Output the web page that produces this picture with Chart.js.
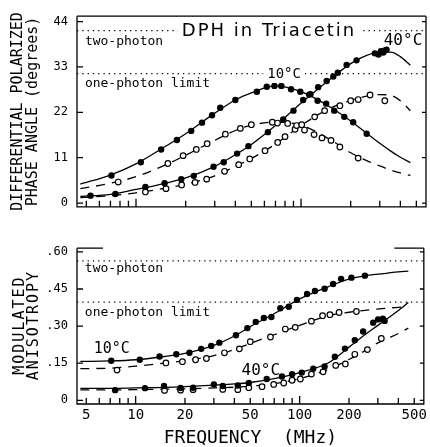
<!DOCTYPE html>
<html>
<head>
<meta charset="utf-8">
<script src="https://cdn.jsdelivr.net/npm/chart.js@4.4.1/dist/chart.umd.min.js"></script>
<style>
body { margin: 0; background: #fff; }
#wrap { position: relative; width: 430px; height: 447px; }
#top { position: absolute; left: 0; top: 0; }
#bot { position: absolute; left: 0; top: 232px; }
</style>
</head>
<body>
<div id="wrap">
  <canvas id="top" width="430" height="223"></canvas>
  <canvas id="bot" width="430" height="215"></canvas>
</div>
<script>
// x axis (MHz, log)
const xTickVals = [5, 10, 20, 50, 100, 200, 500];
const xTickLabels = ['5', '10', '20', '50', '100', '200', '500'];
const xMinor = [5, 6, 7, 8, 9, 10, 20, 30, 40, 50, 60, 70, 80, 90, 100, 200, 300, 400, 500];

// y ticks
const topYTicks = [0, 11, 22, 33, 44];
const topYLabels = ['0', '11', '22', '33', '44'];
const botYTicks = [0, 0.15, 0.30, 0.45, 0.60];
const botYLabels = ['0', '.15', '.30', '.45', '.60'];

// limit lines
const twoPhotonTop = 41.8, onePhotonTop = 31.4;
const twoPhotonBot = 0.564, onePhotonBot = 0.397;

// fitted curves, shared frequency grid
const fitFreq = [4.6, 7, 10, 15, 20, 30, 40, 50, 70, 100, 150, 200, 250, 300, 350, 400, 460];
const fitPhase10 = [4.6, 6.8, 9.5, 13.7, 16.8, 21.8, 25.0, 26.7, 28.4, 27.0, 23.3, 19.9, 16.9, 14.5, 12.6, 11.1, 9.8];
const fitPhase10o = [3.5, 4.8, 6.4, 9.2, 11.6, 15.2, 17.6, 18.9, 19.6, 18.9, 15.4, 12.2, 10.3, 9.0, 8.0, 7.3, 6.7];
const fitPhase40 = [1.6, 2.1, 3.3, 4.8, 6.1, 8.9, 11.7, 14.2, 18.8, 24.2, 30.0, 33.8, 35.8, 36.6, 36.6, 35.5, 33.4];
const fitPhase40o = [1.3, 1.8, 2.5, 3.6, 4.6, 6.6, 8.9, 10.8, 14.3, 18.8, 23.0, 24.9, 25.9, 26.3, 26.1, 24.8, 22.4];
const fitAniso10 = [0.157, 0.159, 0.164, 0.177, 0.19, 0.222, 0.26, 0.298, 0.35, 0.41, 0.46, 0.49, 0.503, 0.51, 0.515, 0.519, 0.522];
const fitAniso10o = [0.128, 0.13, 0.138, 0.15, 0.16, 0.181, 0.205, 0.23, 0.265, 0.303, 0.342, 0.356, 0.364, 0.369, 0.373, 0.376, 0.378];
const fitAniso40 = [0.048, 0.048, 0.05, 0.052, 0.055, 0.061, 0.066, 0.072, 0.088, 0.112, 0.152, 0.215, 0.265, 0.303, 0.335, 0.363, 0.395];
const fitAniso40o = [0.042, 0.042, 0.043, 0.045, 0.046, 0.05, 0.053, 0.057, 0.067, 0.088, 0.125, 0.165, 0.2, 0.232, 0.252, 0.27, 0.292];

// measured points
const ph10F = [7.1, 10.7, 14.2, 17.7, 21.6, 25.1, 28.9, 32.4, 40, 54, 62, 69, 76, 87, 99, 112, 126, 142, 159, 183, 207, 250];
const ph10V = [6.7, 9.9, 13.0, 15.3, 17.5, 19.5, 21.3, 23.1, 25.0, 27.0, 28.2, 28.4, 28.4, 27.6, 27.0, 26.3, 24.8, 24.1, 22.4, 20.9, 19.6, 16.8];
const ph10oF = [7.8, 15.6, 19.3, 23.2, 27, 34.8, 42.9, 50, 67, 72, 83, 94, 101, 105, 120, 134, 152, 172, 222];
const ph10oV = [5.1, 9.6, 11.5, 13.0, 14.4, 16.7, 18.1, 19.0, 19.6, 19.4, 19.3, 18.8, 19.0, 17.7, 16.6, 15.8, 15.2, 13.6, 10.9];
const ph40F = [5.3, 7.5, 11.4, 14.9, 18.8, 22.4, 29.5, 34, 41, 48, 63, 78, 90, 103, 114, 127, 143, 157, 167, 189, 217, 280, 295, 305, 315, 322, 330];
const ph40V = [1.8, 2.2, 3.9, 4.8, 5.8, 6.6, 8.8, 9.9, 12.0, 13.8, 17.2, 20.3, 22.4, 25.0, 26.4, 28.1, 29.6, 30.7, 31.6, 33.5, 34.6, 36.3, 36.0, 36.8, 36.5, 37.0, 37.2];
const ph40oF = [11.4, 15.2, 18.9, 22.8, 26.8, 34.4, 41.9, 48.9, 60.5, 72.2, 80, 92, 121, 139, 172, 200, 222, 262, 322];
const ph40oV = [2.7, 3.5, 4.4, 5.0, 5.8, 7.7, 9.3, 10.7, 12.7, 14.7, 16.1, 17.9, 20.9, 22.4, 23.6, 24.8, 25.1, 26.2, 24.8];

const an10F = [7.1, 10.6, 14.0, 17.7, 21.3, 25.1, 28.9, 32.4, 40.9, 48, 54, 60.5, 67.3, 76.3, 85.8, 96.3, 111, 124, 142, 160, 179, 207, 250];
const an10V = [0.160, 0.164, 0.177, 0.186, 0.192, 0.208, 0.220, 0.233, 0.263, 0.292, 0.317, 0.333, 0.337, 0.372, 0.378, 0.406, 0.43, 0.442, 0.451, 0.47, 0.491, 0.496, 0.504];
const an10oF = [7.7, 15.3, 19.3, 23.2, 27, 34.8, 42.9, 50, 66.4, 81.8, 94, 118, 138, 153, 174, 222];
const an10oV = [0.122, 0.151, 0.156, 0.164, 0.169, 0.192, 0.208, 0.237, 0.256, 0.288, 0.295, 0.32, 0.342, 0.346, 0.355, 0.359];
const an40F = [7.5, 11.4, 14.9, 18.8, 22.4, 30, 34, 42, 49, 63, 78, 90, 103, 121, 142, 164, 189, 217, 244, 281, 301, 322, 330];
const an40V = [0.041, 0.049, 0.058, 0.05, 0.051, 0.064, 0.058, 0.06, 0.07, 0.086, 0.096, 0.105, 0.112, 0.128, 0.137, 0.176, 0.209, 0.243, 0.278, 0.314, 0.327, 0.33, 0.321];
const an40oF = [15, 18.8, 22.4, 34, 42, 49, 59, 69.5, 80, 90, 101, 118, 139, 166, 190, 217, 259, 315];
const an40oV = [0.04, 0.041, 0.043, 0.044, 0.043, 0.051, 0.055, 0.064, 0.07, 0.081, 0.086, 0.106, 0.115, 0.141, 0.147, 0.186, 0.205, 0.25];

const xMin = 4.39, xMax = 572;
const mono = 'DejaVu Sans Mono';

function pts(f, v) { return f.map((x, i) => ({x: x, y: v[i]})); }
function dots(f, v, open) {
  return { data: pts(f, v), showLine: false, pointRadius: open ? 2.8 : 3.2,
    pointBackgroundColor: open ? '#fff' : '#000', pointBorderColor: '#000',
    pointBorderWidth: open ? 1.2 : 0, order: 1 };
}
function curve(f, v, dashed) {
  return { data: pts(f, v), showLine: true, pointRadius: 0, borderColor: '#000',
    borderWidth: 1.3, borderDash: dashed ? [9, 7] : [], cubicInterpolationMode: 'monotone', order: 2 };
}
function limit(val) {
  return { data: [{x: xMin, y: val}, {x: xMax, y: val}], showLine: true, pointRadius: 0,
    borderColor: '#000', borderWidth: 1.3, borderDash: [1.3, 4], order: 3 };
}

// frame, inward ticks and the text notes
const frame = {
  id: 'frame',
  afterDatasetsDraw(chart, args, opts) {
    const {ctx, chartArea: a} = chart;
    const x = chart.scales.x, y = chart.scales.y;
    ctx.save();
    ctx.strokeStyle = '#000';
    ctx.lineWidth = 1.3;
    ctx.beginPath();
    // left, bottom, right sides
    ctx.moveTo(a.left, a.top); ctx.lineTo(a.left, a.bottom); ctx.lineTo(a.right, a.bottom); ctx.lineTo(a.right, a.top);
    // top side, possibly only pieces of it
    (opts.topParts || [[0, 1]]).forEach(p => {
      ctx.moveTo(a.left + p[0] * (a.right - a.left), a.top);
      ctx.lineTo(a.left + p[1] * (a.right - a.left), a.top);
    });
    xMinor.forEach(v => {
      const px = x.getPixelForValue(v);
      const len = (v === 10 || v === 100) ? 8 : 6;
      ctx.moveTo(px, a.bottom);
      ctx.lineTo(px, a.bottom - len);
    });
    opts.yTicks.forEach(v => {
      const py = y.getPixelForValue(v);
      ctx.moveTo(a.left, py); ctx.lineTo(a.left + 6, py);
      ctx.moveTo(a.right, py); ctx.lineTo(a.right - 4, py);
    });
    ctx.stroke();
    ctx.fillStyle = '#000';
    ctx.textBaseline = 'middle';
    opts.notes.forEach(n => {
      ctx.font = n.font;
      ctx.textAlign = n.align;
      ctx.letterSpacing = (n.spacing || 0) + 'px';
      const px = x.getPixelForValue(n.f), py = y.getPixelForValue(n.v);
      if (n.clear) {
        const w = ctx.measureText(n.text).width + 8;
        const h = 16;
        ctx.fillStyle = '#fff';
        ctx.fillRect(n.align === 'center' ? px - w / 2 : px - 4, py - h / 2, w, h);
        ctx.fillStyle = '#000';
      }
      ctx.fillText(n.text, px, py);
    });
    // rotated axis title with letter spacing
    if (opts.vtitle) {
      const t = opts.vtitle;
      ctx.font = t.font;
      ctx.letterSpacing = t.spacing + 'px';
      ctx.textAlign = 'center';
      t.lines.forEach((line, i) => {
        ctx.save();
        ctx.translate(t.x[i], (a.top + a.bottom) / 2);
        ctx.rotate(-Math.PI / 2);
        ctx.fillText(line, t.spacing / 2, 0);
        ctx.restore();
      });
    }
    ctx.restore();
  }
};

function yAxis(min, max, ticks, labels, title) {
  return {
    min: min, max: max,
    afterFit: s => { s.width = 77; },
    afterBuildTicks: s => { s.ticks = ticks.map(v => ({value: v})); },
    grid: {display: false, drawTicks: false},
    border: {display: false},
    ticks: {padding: 9, color: '#000', font: {family: mono, size: 12}, callback: (v, i) => labels[i]},
    title: {display: !!title, text: title || '', color: '#000', font: {family: mono, size: 15, lineHeight: 1.0}, padding: {top: 11, bottom: 0}}
  };
}

new Chart(document.getElementById('top'), {
  type: 'scatter',
  data: {
    datasets: [
      dots(ph10F, ph10V, false), dots(ph10oF, ph10oV, true),
      dots(ph40F, ph40V, false), dots(ph40oF, ph40oV, true),
      curve(fitFreq, fitPhase10, false), curve(fitFreq, fitPhase10o, true),
      curve(fitFreq, fitPhase40, false), curve(fitFreq, fitPhase40o, true),
      limit(twoPhotonTop), limit(onePhotonTop)
    ]
  },
  options: {
    responsive: false, animation: false,
    layout: {padding: {top: 15, right: 4, left: 0, bottom: 0}, autoPadding: false},
    plugins: {
      legend: {display: false}, tooltip: {enabled: false},
      frame: {
        yTicks: topYTicks,
        notes: [
          {text: 'two-photon', f: 4.9, v: 39.1, align: 'left', font: '13px ' + mono},
          {text: 'one-photon limit', f: 4.9, v: 28.9, align: 'left', font: '13px ' + mono},
          {text: 'DPH in Triacetin', f: 64, v: 41.6, align: 'center', font: '18px "DejaVu Sans"', spacing: 2, clear: true},
          {text: '10°C', f: 79, v: 31.1, align: 'center', font: '14px ' + mono, clear: true},
          {text: '40°C', f: 415, v: 39.3, align: 'center', font: '16px ' + mono}
        ]
      }
    },
    scales: {
      x: {type: 'logarithmic', min: xMin, max: xMax, display: false},
      y: yAxis(-0.9, 45.3, topYTicks, topYLabels, ['DIFFERENTIAL POLARIZED', 'PHASE ANGLE (degrees)'])
    }
  },
  plugins: [frame]
});

new Chart(document.getElementById('bot'), {
  type: 'scatter',
  data: {
    datasets: [
      dots(an10F, an10V, false), dots(an10oF, an10oV, true),
      dots(an40F, an40V, false), dots(an40oF, an40oV, true),
      curve(fitFreq, fitAniso10, false), curve(fitFreq, fitAniso10o, true),
      curve(fitFreq, fitAniso40, false), curve(fitFreq, fitAniso40o, true),
      limit(twoPhotonBot), limit(onePhotonBot)
    ]
  },
  options: {
    responsive: false, animation: false,
    layout: {padding: {top: 8, right: 4, left: 0, bottom: 0}, autoPadding: false},
    plugins: {
      legend: {display: false}, tooltip: {enabled: false},
      frame: {
        yTicks: botYTicks,
        topParts: [[0, 0.075], [0.915, 1]],
        vtitle: {lines: ['MODULATED', 'ANISOTROPY'], x: [20, 34], font: '15px ' + mono, spacing: 2},
        notes: [
          {text: 'two-photon', f: 4.9, v: 0.531, align: 'left', font: '13px ' + mono},
          {text: 'one-photon limit', f: 4.9, v: 0.354, align: 'left', font: '13px ' + mono},
          {text: '10°C', f: 7.16, v: 0.208, align: 'center', font: '15px ' + mono},
          {text: '40°C', f: 58, v: 0.119, align: 'center', font: '16px ' + mono}
        ]
      }
    },
    scales: {
      x: {
        type: 'logarithmic', min: xMin, max: xMax,
        afterFit: s => { s.height = 43; },
        afterBuildTicks: s => { s.ticks = xTickVals.map(v => ({value: v})); },
        grid: {display: false, drawTicks: false},
        border: {display: false},
        ticks: {padding: 3, autoSkip: false, maxRotation: 0, color: '#000', font: {family: mono, size: 14}, callback: (v, i) => xTickLabels[i]},
        title: {display: true, text: 'FREQUENCY  (MHz)', color: '#000', font: {family: mono, size: 18, lineHeight: 1.0}, padding: {top: 0, bottom: 0}}
      },
      y: yAxis(-0.015, 0.615, botYTicks, botYLabels, null)
    }
  },
  plugins: [frame]
});
</script>
</body>
</html>
